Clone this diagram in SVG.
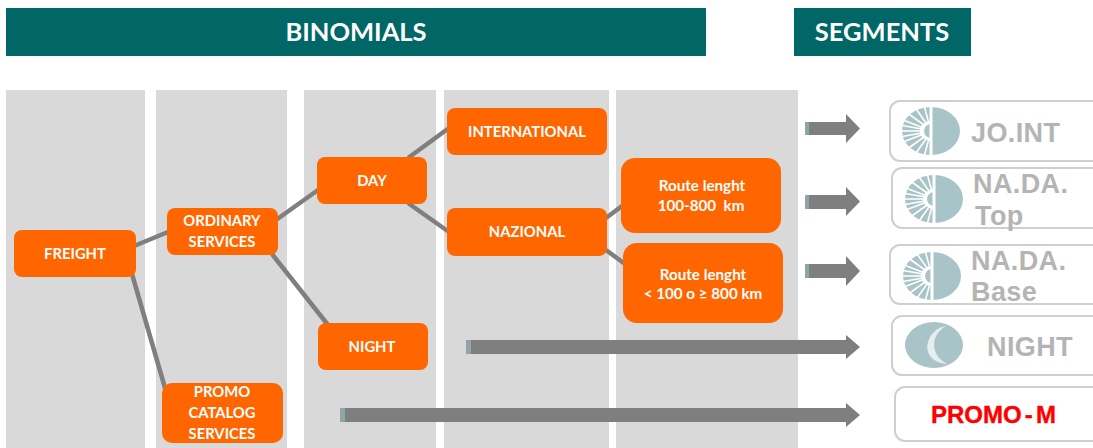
<svg xmlns="http://www.w3.org/2000/svg" width="1093" height="448" viewBox="0 0 1093 448">
<style>
.hdr{fill:#006666}
.hdrt{fill:#fff;font:700 25.500px "Lato",sans-serif;text-anchor:middle}
.col{fill:#d9d9d9}
.n{fill:#ff6600}
.t{fill:#fff;font:700 14.800px "Lato",sans-serif;text-anchor:middle}
.s{fill:#fff;font:700 15.200px "Lato",sans-serif;text-anchor:middle}
.c{stroke:#7f7f7f;stroke-width:4.5;fill:none}
.a{fill:#7f7f7f}
.b{fill:#8fa5a8}
.seg{fill:#fff;stroke:#cfcfcf;stroke-width:2}
.g{fill:#b4b4b4;font:bold 27px "Liberation Sans",sans-serif;letter-spacing:.4px}
.lt{fill:#a9c4c8}
.r{stroke:#fff;stroke-width:1.600;fill:none}
</style>
<defs>
<clipPath id="lh"><rect x="-30" y="-25" width="30" height="50"/></clipPath>
<g id="sun">
<ellipse class="lt" rx="29" ry="24"/>
<g clip-path="url(#lh)">
<ellipse fill="#fff" rx="11" ry="10"/>
<path class="r" d="M-9 0H-30M-8.500-3.500L-28-11M-8.500 3.500L-28 11M-7-6L-25-19M-7 6L-25 19M-5-8L-17-25M-5 8L-17 25M-2.500-9L-7-26M-2.500 9L-7 26M-9-2L-29-5.500M-9 2L-29 5.500"/>
<path class="lt" d="M0-7A7 7 0 0 0 0 7Z"/>
</g>
<rect x="-1.500" y="-24" width="3" height="48" fill="#fff"/>
</g>
</defs>
<g id="headers">
<rect class="hdr" x="6" y="8" width="700" height="48"/>
<text class="hdrt" x="356" y="41">BINOMIALS</text>
<rect class="hdr" x="794" y="8" width="177" height="48"/>
<text class="hdrt" x="882" y="41">SEGMENTS</text>
</g>
<g id="columns">
<rect class="col" x="6" y="90" width="139" height="358"/>
<rect class="col" x="156" y="90" width="131" height="358"/>
<rect class="col" x="304" y="90" width="132" height="358"/>
<rect class="col" x="444" y="90" width="165" height="358"/>
<rect class="col" x="616" y="90" width="182" height="358"/>
</g>
<g id="connectors">
<path class="c" d="M134 246L168 232M132 274L165 388M276 220L318 190M272 254L328 325M408 158L449 128M408 203L449 232M606 218L622 206M606 250L625 264"/>
<path class="a" d="M805 122H846V114L860 128.500L846 143V135H805Z"/>
<path class="a" d="M805 195H846V187L860 201.500L846 216V209H805Z"/>
<path class="a" d="M805 264H846V256L860 271L846 286V278H805Z"/>
<path class="a" d="M466 340H846V335L860 347L846 359V354H466Z"/>
<path class="a" d="M340 408H846V403L860 415L846 427V422H340Z"/>
<rect class="b" x="805" y="122" width="4" height="13"/>
<rect class="b" x="805" y="195" width="4" height="14"/>
<rect class="b" x="805" y="264" width="4" height="14"/>
<rect class="b" x="466" y="340" width="5" height="14"/>
<rect class="b" x="340" y="408" width="5" height="14"/>
</g>
<g id="freight"><rect class="n" x="14" y="230" width="122" height="47" rx="8"/><text class="t" x="75" y="259">FREIGHT</text></g>
<g id="ordinary"><rect class="n" x="167" y="208" width="111" height="47" rx="8"/><text class="t" x="222" y="226">ORDINARY</text><text class="t" x="222" y="247">SERVICES</text></g>
<g id="promo"><rect class="n" x="162" y="383" width="121" height="60" rx="10"/><text class="t" x="222" y="397">PROMO</text><text class="t" x="222" y="418">CATALOG</text><text class="t" x="222" y="439">SERVICES</text></g>
<g id="day"><rect class="n" x="317" y="157" width="110" height="47" rx="8"/><text class="t" x="372" y="186">DAY</text></g>
<g id="night"><rect class="n" x="318" y="323" width="110" height="47" rx="8"/><text class="t" x="372" y="352">NIGHT</text></g>
<g id="international"><rect class="n" x="447" y="108" width="160" height="47" rx="8"/><text class="t" x="527" y="137">INTERNATIONAL</text></g>
<g id="nazional"><rect class="n" x="447" y="208" width="160" height="48" rx="8"/><text class="t" x="527" y="237">NAZIONAL</text></g>
<g id="route1"><rect class="n" x="621" y="158" width="160" height="75" rx="14"/><text class="s" x="702" y="191">Route lenght</text><text xml:space="preserve" class="s" x="701" y="211">100-800  km</text></g>
<g id="route2"><rect class="n" x="623" y="243" width="160" height="80" rx="14"/><text class="s" x="703" y="280">Route lenght</text><text class="s" x="703" y="299">&lt; 100 o ≥ 800 km</text></g>
<g id="seg-joint"><rect class="seg" x="890" y="101" width="215" height="60" rx="10"/><use href="#sun" x="931" y="131"/><text class="g" x="971" y="142">JO.INT</text></g>
<g id="seg-top"><rect class="seg" x="892" y="168" width="215" height="60" rx="10"/><use href="#sun" x="934" y="199"/><text class="g" x="973" y="193">NA.DA.</text><text class="g" x="975" y="225">Top</text></g>
<g id="seg-base"><rect class="seg" x="890" y="245" width="215" height="59" rx="10"/><use href="#sun" x="932" y="276"/><text class="g" x="971" y="270">NA.DA.</text><text class="g" x="971" y="301">Base</text></g>
<g id="seg-night"><rect class="seg" x="892" y="316" width="215" height="59" rx="10"/><ellipse class="lt" cx="934" cy="345" rx="29" ry="23"/><path fill="#e4eeef" d="M946 326C925 329 917 362 948 364C932 358 928 336 946 326Z"/><text class="g" x="987" y="356">NIGHT</text></g>
<g id="seg-promo"><rect class="seg" x="895" y="387" width="210" height="54" rx="10"/><text x="931" y="423" fill="#f00" stroke="#f00" stroke-width=".4" font-family="Liberation Sans, sans-serif" font-weight="bold" font-size="24" word-spacing="-3.500">PROMO - M</text></g>
</svg>
